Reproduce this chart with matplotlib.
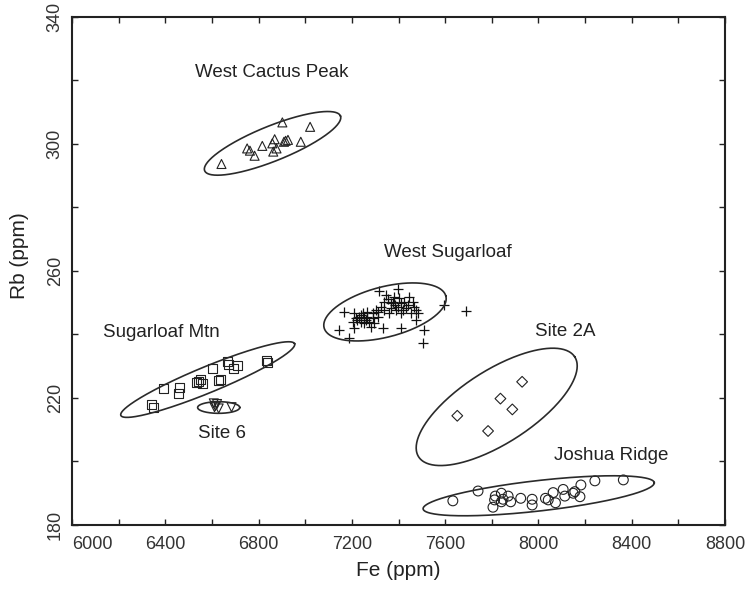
import numpy as np
import matplotlib
matplotlib.use("Agg")
import matplotlib.pyplot as plt
from matplotlib.ticker import MultipleLocator

plt.rcParams["font.family"] = ["Liberation Sans", "DejaVu Sans"]

# West Cactus Peak (triangles)
wcp_fe = [6641, 6751, 6763, 6783, 6816, 6859, 6869, 6863, 6877, 6916, 6926, 6909, 6902, 6981, 7021]
wcp_rb = [293.7, 298.6, 297.9, 296.3, 299.4, 300.2, 301.5, 297.6, 298.6, 301.0, 301.3, 300.7, 306.8, 300.7, 305.4]

# West Sugarloaf (plus signs)
ws_fe = [7317, 7396, 7346, 7356, 7336, 7375, 7385, 7396, 7411, 7425, 7439, 7461, 7468, 7475, 7454,
         7411, 7389, 7368, 7360, 7325, 7303, 7289, 7267, 7253, 7239, 7224, 7210, 7217, 7231, 7246,
         7260, 7274, 7289, 7296, 7310, 7203, 7210, 7167, 7145, 7188, 7332, 7411, 7475, 7511, 7504,
         7690, 7597, 7253, 7282, 7368, 7382, 7404, 7418, 7432, 7447, 7482, 7310, 7339, 7267, 7239]
ws_rb = [253.8, 254.2, 252.4, 251.1, 250.3, 250.3, 249.3, 248.8, 249.8, 250.3, 249.3, 250.3, 248.8, 247.7, 246.7,
         246.7, 247.7, 248.2, 246.7, 248.8, 247.7, 246.7, 245.6, 245.1, 244.0, 244.6, 246.7, 245.1, 245.6, 246.7,
         244.6, 244.0, 245.1, 243.5, 245.6, 244.0, 241.9, 247.2, 241.4, 238.8, 241.9, 241.9, 244.6, 241.4, 237.2,
         247.5, 249.3, 243.5, 242.5, 249.8, 251.9, 251.4, 247.7, 248.2, 251.9, 246.7, 247.2, 247.7, 247.2, 246.1]

# Sugarloaf Mtn (squares)
sm_fe = [6343, 6350, 6393, 6462, 6457, 6536, 6543, 6551, 6558, 6601, 6629, 6637, 6665, 6672, 6694, 6708, 6837, 6834]
sm_rb = [217.8, 217.1, 223.0, 223.4, 221.5, 224.8, 225.2, 225.9, 224.6, 229.3, 225.5, 225.9, 231.4, 230.4, 229.3, 230.1, 231.1, 231.8]

# Site 6 (down triangles)
s6_fe = [6608, 6615, 6622, 6611, 6629, 6684]
s6_rb = [218.3, 217.5, 218.1, 217.1, 216.7, 217.1]

# Site 2A (diamonds)
s2a_fe = [7652, 7784, 7837, 7888, 7930]
s2a_rb = [214.4, 209.6, 219.8, 216.4, 225.1]

# Joshua Ridge (circles)
jr_fe = [7633, 7741, 7805, 7815, 7841, 7848, 7870, 7881, 7924, 7973, 7973, 8030, 8042, 8063, 8073,
         8106, 8113, 8149, 8156, 8178, 8182, 8242, 8364, 7841, 7812]
jr_rb = [187.6, 190.7, 185.6, 189.1, 190.0, 188.1, 189.1, 187.3, 188.4, 188.1, 186.3, 188.4, 187.9, 190.2, 187.0,
         191.2, 189.1, 190.0, 190.5, 188.9, 192.6, 193.9, 194.2, 187.3, 187.9]

# ellipses: centre and two conjugate half axes, all in data units (Fe, Rb)
ell_names = ["West Cactus Peak", "West Sugarloaf", "Sugarloaf Mtn", "Site 6", "Site 2A", "Joshua Ridge"]
ell_cx = [6860, 7342, 6582, 6629, 7821, 8001]
ell_cy = [300.2, 247.1, 225.8, 217.0, 217.2, 189.2]
ell_ax = [291.1, 261.0, 372.5, 90.3, 334.6, 495.5]
ell_ay = [8.63, 5.0, 11.29, 0.0, 15.75, 4.13]
ell_bx = [-28.2, -27.3, -21.4, 0.0, -84.9, -7.4]
ell_by = [5.11, 7.65, 3.79, 1.83, 9.67, 4.76]

# group labels
lab_fe = [6856, 7613, 6383, 6644, 8116, 8310]
lab_rb = [322.5, 265.7, 240.6, 208.9, 240.9, 202.0]

x_ticks = [6000, 6400, 6800, 7200, 7600, 8000, 8400, 8800]
y_ticks = [180, 220, 260, 300, 340]

fig = plt.figure(figsize=(7.49, 5.92), dpi=100)
ax = fig.add_axes([0.0961, 0.1132, 0.8719, 0.8581])

mk = dict(facecolors="none", edgecolors="#222222", linewidths=0.8, s=42)
ax.scatter(wcp_fe, wcp_rb, marker="^", **mk)
ax.scatter(ws_fe, ws_rb, marker="+", c="#111111", linewidths=0.9, s=45)
ax.scatter(sm_fe, sm_rb, marker="s", **mk)
ax.scatter(s6_fe, s6_rb, marker="v", **mk)
ax.scatter(s2a_fe, s2a_rb, marker="D", facecolors="none", edgecolors="#222222", linewidths=0.8, s=30)
ax.scatter(jr_fe, jr_rb, marker="o", facecolors="none", edgecolors="#222222", linewidths=0.8, s=50)

t = np.linspace(0, 2 * np.pi, 300)
for i in range(len(ell_cx)):
    ex = ell_cx[i] + ell_ax[i] * np.cos(t) + ell_bx[i] * np.sin(t)
    ey = ell_cy[i] + ell_ay[i] * np.cos(t) + ell_by[i] * np.sin(t)
    ax.plot(ex, ey, color="#2a2a2a", lw=1.2)

for name, x, y in zip(ell_names, lab_fe, lab_rb):
    ax.text(x, y, name, ha="center", va="center", fontsize=13.5, color="#222222")

ax.set_xlim(6000, 8800)
ax.set_ylim(180, 340)
ax.set_xticks(x_ticks)
ax.set_yticks(y_ticks)
ax.xaxis.set_minor_locator(MultipleLocator(200))
ax.yaxis.set_minor_locator(MultipleLocator(20))
ax.tick_params(which="both", direction="in", top=True, right=True, length=4, width=1, color="#222222")
ax.tick_params(axis="x", labelsize=13, pad=8, labelcolor="#333333")
ax.tick_params(axis="y", labelsize=13, pad=6, labelcolor="#333333", labelrotation=90)

for sp in ax.spines.values():
    sp.set_linewidth(1.5)
    sp.set_color("#222222")

ax.set_xlabel("Fe (ppm)", fontsize=15, color="#222222", labelpad=6)
ax.set_ylabel("Rb (ppm)", fontsize=15, color="#222222")
ax.yaxis.set_label_coords(-0.066, 0.53)

fig.canvas.draw()
for lab in ax.get_yticklabels():
    lab.set_va("center")
ax.get_xticklabels()[0].set_ha("left")  # 6000 sits to the right of the corner

fig.savefig("out.png", dpi=100)
